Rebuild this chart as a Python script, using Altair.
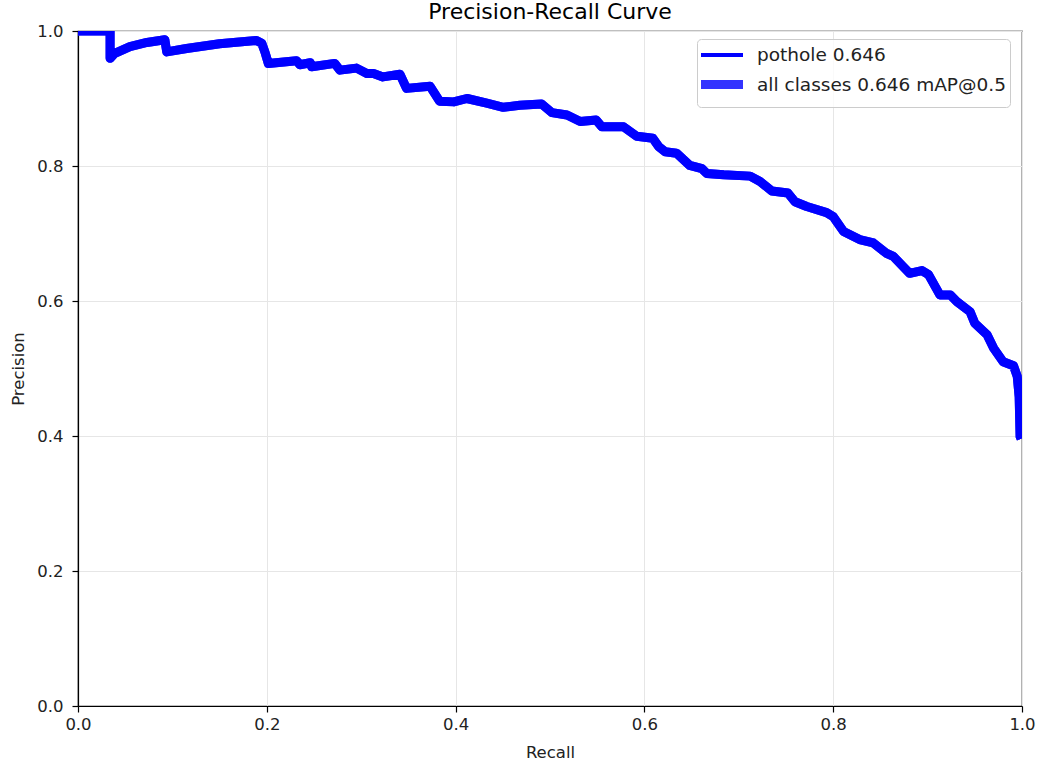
import altair as alt
import pandas as pd

recall = [0.0, 0.034, 0.034, 0.039, 0.055, 0.073, 0.092, 0.094, 0.115, 0.150, 0.189,
          0.1946, 0.198, 0.2016, 0.2316, 0.235, 0.246, 0.2475, 0.272, 0.2775, 0.295,
          0.306, 0.313, 0.323, 0.341, 0.348, 0.373, 0.383, 0.398, 0.412, 0.433,
          0.4505, 0.468, 0.491, 0.502, 0.518, 0.532, 0.549, 0.555, 0.578, 0.592,
          0.609, 0.615, 0.622, 0.634, 0.648, 0.661, 0.666, 0.684, 0.712, 0.7225,
          0.735, 0.752, 0.7595, 0.772, 0.793, 0.800, 0.811, 0.828, 0.8425, 0.856,
          0.8637, 0.881, 0.894, 0.901, 0.913, 0.924, 0.931, 0.945, 0.950, 0.963,
          0.970, 0.980, 0.991, 0.995, 0.997, 0.998, 0.999]
precision = [1.0, 1.0, 0.9595, 0.967, 0.977, 0.983, 0.987, 0.969, 0.974, 0.981, 0.986,
             0.982, 0.969, 0.952, 0.956, 0.950, 0.953, 0.947, 0.952, 0.942, 0.945,
             0.937, 0.937, 0.932, 0.936, 0.915, 0.918, 0.896, 0.895, 0.900, 0.893,
             0.887, 0.890, 0.892, 0.879, 0.8756, 0.866, 0.868, 0.858, 0.858, 0.844,
             0.841, 0.829, 0.821, 0.819, 0.801, 0.796, 0.789, 0.787, 0.785, 0.777,
             0.763, 0.760, 0.747, 0.740, 0.731, 0.725, 0.703, 0.691, 0.686, 0.671,
             0.666, 0.641, 0.645, 0.639, 0.609, 0.609, 0.599, 0.584, 0.567, 0.550,
             0.530, 0.510, 0.504, 0.488, 0.458, 0.399, 0.396]

series_names = ["pothole 0.646", "all classes 0.646 mAP@0.5"]
series_colors = ["#0000ff", "#3333ff"]
series_widths = [4, 9]
x_ticks = [0.0, 0.2, 0.4, 0.6, 0.8, 1.0]
y_ticks = [0.0, 0.2, 0.4, 0.6, 0.8, 1.0]

rows = []
for name in series_names:
    for r, p in zip(recall, precision):
        rows.append({"series": name, "recall": r, "precision": p})
df = pd.DataFrame(rows)

FONT = "DejaVu Sans"

x_enc = alt.X("recall:Q", title="Recall",
              scale=alt.Scale(domain=[0, 1], nice=False, zero=False),
              axis=alt.Axis(values=x_ticks, format=".1f"))
y_enc = alt.Y("precision:Q", title="Precision",
              scale=alt.Scale(domain=[0, 1], nice=False, zero=False),
              axis=alt.Axis(values=y_ticks, format=".1f"))

legend = alt.Legend(title=None, orient="none", legendX=619, legendY=8)
color_enc = alt.Color("series:N",
                      scale=alt.Scale(domain=series_names, range=series_colors),
                      legend=legend)
width_enc = alt.StrokeWidth("series:N",
                            scale=alt.Scale(domain=series_names, range=series_widths),
                            legend=legend)

base = alt.Chart(df)

all_line = base.transform_filter(alt.datum.series == series_names[1]).mark_line(
    clip=True, strokeJoin="round").encode(x=x_enc, y=y_enc, color=color_enc, strokeWidth=width_enc)

overlay = base.transform_filter(alt.datum.series == series_names[1]).mark_line(
    clip=True, strokeJoin="round", color="#0000ff", strokeWidth=9).encode(x=x_enc, y=y_enc)

cls_line = base.transform_filter(alt.datum.series == series_names[0]).mark_line(
    clip=True, strokeJoin="round").encode(x=x_enc, y=y_enc, color=color_enc, strokeWidth=width_enc)

chart = alt.layer(all_line, overlay, cls_line).properties(
    width=944, height=675,
    title=alt.TitleParams("Precision-Recall Curve", fontSize=22, font=FONT,
                          fontWeight="normal", color="#000", anchor="middle",
                          offset=-1, frame="group"),
    autosize=alt.AutoSizeParams(type="none"),
    padding={"left": 78, "top": 31, "right": 20, "bottom": 64},
).configure_view(
    stroke="#000", strokeWidth=1.2
).configure_axis(
    domainColor="#000", domainWidth=1.2,
    tickColor="#000", tickWidth=1.2, tickSize=6,
    labelFont=FONT, labelFontSize=16.5, labelColor="#222", labelPadding=4,
    labelFlush=False, labelOverlap=False, labelBound=False,
    titleFont=FONT, titleFontSize=16.5, titleFontWeight="normal", titleColor="#222",
    gridColor="#e6e6e6", gridWidth=1,
).configure_axisX(titlePadding=12).configure_axisY(
    titlePadding=10, labelPadding=9
).configure_legend(
    symbolType="M-1.45,0H2.75", symbolSize=400, labelFont=FONT, labelFontSize=18.5,
    labelColor="#222", labelOffset=27, labelLimit=0, padding=4, rowPadding=1,
    strokeColor="#cccccc", fillColor="rgba(255,255,255,0.8)", cornerRadius=4,
)

chart.save("out.html", embed_options={"renderer": "svg", "actions": False})
